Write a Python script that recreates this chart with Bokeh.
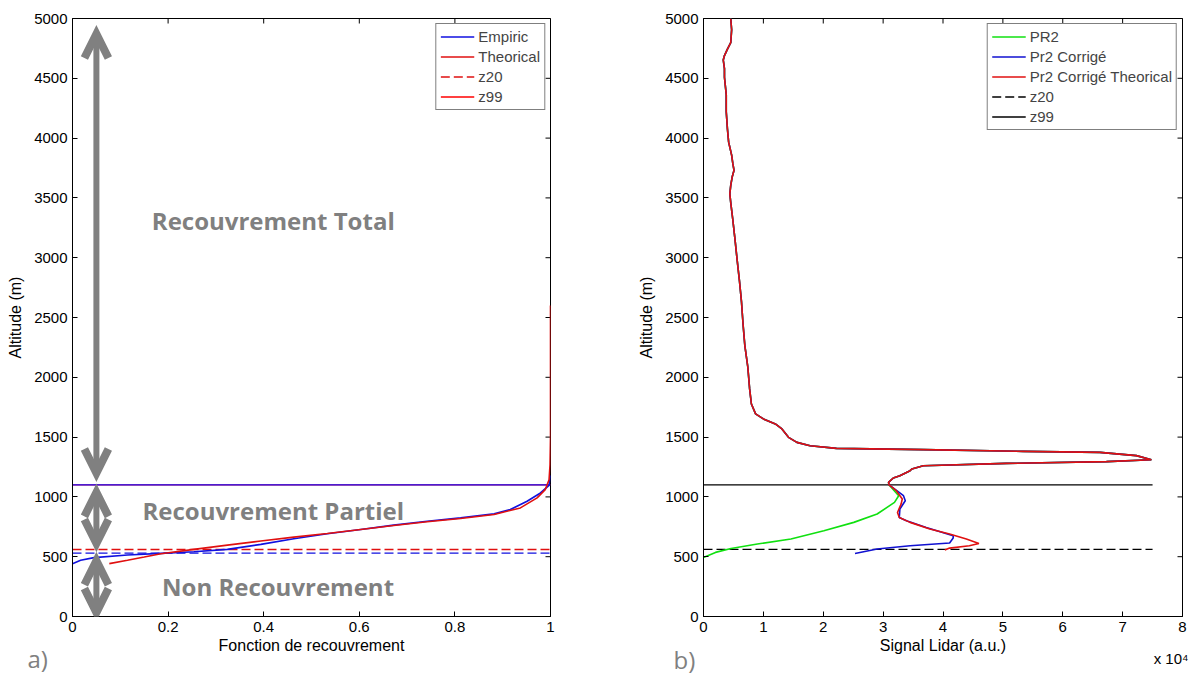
import math
from bokeh.plotting import figure
from bokeh.models import (Range1d, FixedTicker, Legend, LegendItem, Title,
                          Arrow, OpenHead)
from bokeh.layouts import row
from bokeh.embed import file_html
from bokeh.resources import INLINE
from bokeh.core.properties import value

# ---------------- data: panel a) overlap function ----------------
empiric_x = [0.0, 0.017, 0.045, 0.115, 0.185, 0.254, 0.324, 0.394, 0.463, 0.533,
             0.603, 0.672, 0.742, 0.812, 0.882, 0.916, 0.951, 0.979, 0.997, 1.0]
empiric_alt = [442, 470, 492, 514, 528, 542, 561, 603, 650, 692,
               728, 764, 797, 825, 858, 894, 964, 1033, 1097, 1180]
theorical_x = [0.077, 0.115, 0.15, 0.185, 0.254, 0.324, 0.394, 0.463, 0.533, 0.603,
               0.672, 0.742, 0.812, 0.882, 0.937, 0.972, 0.989, 0.997, 0.999, 1.0, 1.0]
theorical_alt = [442, 470, 497, 525, 561, 597, 631, 664, 694, 728,
                 761, 792, 820, 853, 908, 992, 1061, 1144, 1269, 1500, 2600]
z20_theorical = 560
z20_empiric = 530
z99 = 1100
xspan_a = [0, 1]
xticks_a = [0, 0.2, 0.4, 0.6, 0.8, 1]
xlabels_a = ["0", "0.2", "0.4", "0.6", "0.8", "1"]
yticks = [0, 500, 1000, 1500, 2000, 2500, 3000, 3500, 4000, 4500, 5000]
y_max = 5000

region_texts = ["Recouvrement Total", "Recouvrement Partiel", "Non Recouvrement"]
region_text_x = [0.42, 0.42, 0.43]
region_text_alt = [3315, 884, 248]
arrow_x = 0.05
arrow_top = [4870, 1038, 466]
arrow_bottom = [1200, 611, 33]

# ---------------- data: panel b) lidar signal (x 1e4) ----------------
upper_alt = [5000, 4906, 4798, 4744, 4690, 4653, 4581, 4509, 4364, 4220, 4075, 3966,
             3858, 3786, 3731, 3677, 3605, 3533, 3460, 3315, 3135, 2990, 2809, 2628,
             2448, 2267, 2086, 1905, 1777, 1694, 1652, 1610, 1568, 1498, 1456, 1428,
             1406, 1395, 1381, 1372, 1345, 1311, 1295, 1280, 1261, 1233, 1219, 1177,
             1158, 1121, 1100]
upper_sig = [0.455, 0.47, 0.455, 0.40, 0.35, 0.33, 0.35, 0.35, 0.38, 0.38, 0.40, 0.42,
             0.47, 0.49, 0.51, 0.48, 0.455, 0.44, 0.455, 0.49, 0.53, 0.56, 0.60, 0.635,
             0.66, 0.69, 0.74, 0.77, 0.80, 0.87, 1.0, 1.2, 1.31, 1.42, 1.56, 1.78,
             2.22, 3.67, 5.34, 6.62, 7.23, 7.48, 6.73, 5.06, 3.67, 3.48, 3.45, 3.28,
             3.17, 3.09, 3.10]
green_alt = [1010, 954, 857, 787, 717, 648, 606, 569, 536, 494]
green_sig = [3.26, 3.19, 2.90, 2.51, 2.01, 1.46, 0.90, 0.46, 0.20, 0.0]
blue_alt = [1010, 968, 899, 828, 801, 745, 675, 656, 614, 592, 564, 527]
blue_sig = [3.34, 3.37, 3.28, 3.27, 3.39, 3.72, 4.17, 4.17, 4.11, 3.45, 2.90, 2.53]
red_alt = [1052, 982, 940, 870, 828, 787, 731, 690, 648, 611, 592, 572, 556]
red_sig = [3.22, 3.32, 3.30, 3.24, 3.27, 3.45, 3.78, 4.11, 4.39, 4.60, 4.44, 4.11, 4.03]
z20_b = 562
z99_b = 1100
xspan_b = [0, 7.5]
xticks_b = [0, 1, 2, 3, 4, 5, 6, 7, 8]
x_multiplier = "x 10\u2074"

FONT = "Liberation Sans"
GRAY = "#808080"
W, H = 596, 677


def make_fig(xr, xticks, xlabels, min_left, min_right, xlabel):
    p = figure(width=W, height=H, output_backend="svg", toolbar_location=None,
               x_range=Range1d(*xr), y_range=Range1d(0, y_max),
               min_border_left=min_left, min_border_right=min_right,
               min_border_top=18, min_border_bottom=61,
               background_fill_color="white", border_fill_color="white")
    p.outline_line_color = "black"
    p.outline_line_width = 1
    p.xgrid.visible = False
    p.ygrid.visible = False
    p.xaxis.ticker = FixedTicker(ticks=xticks)
    p.yaxis.ticker = FixedTicker(ticks=yticks)
    if xlabels is not None:
        p.xaxis.major_label_overrides = dict(zip(xticks, xlabels))
    for ax in (p.xaxis[0], p.yaxis[0]):
        ax.major_tick_in = 5
        ax.major_tick_out = 0
        ax.minor_tick_line_color = None
        ax.axis_line_color = "black"
        ax.major_tick_line_color = "black"
        ax.major_label_text_font = FONT
        ax.major_label_text_font_size = "15px"
        ax.major_label_text_color = "black"
        ax.major_label_standoff = 5
        ax.axis_label_text_font = FONT
        ax.axis_label_text_font_size = "16px"
        ax.axis_label_text_font_style = "normal"
        ax.axis_label_text_color = "black"
    p.xaxis.axis_label = xlabel
    p.xaxis.axis_label_standoff = 2
    p.yaxis.axis_label = "Altitude (m)"
    p.yaxis.axis_label_standoff = 7
    # inward tick marks on the top and right edges of the box (half clipped by frame)
    p.scatter(x=xticks, y=[y_max] * len(xticks), marker="dash", size=10,
              angle=math.pi / 2, line_color="black", line_width=1)
    p.scatter(x=[xr[1]] * len(yticks), y=yticks, marker="dash", size=10,
              line_color="black", line_width=1)
    return p


def style_legend(p, items):
    leg = Legend(items=items, location="top_right", margin=5, padding=4,
                 spacing=3, glyph_width=34, glyph_height=17, label_height=17,
                 label_standoff=4, label_text_font=FONT, label_text_font_size="15px",
                 border_line_color="black", border_line_width=1,
                 background_fill_color="white", background_fill_alpha=1.0)
    p.add_layout(leg)


def caption(p, text, size, color, font, align, offset, standoff):
    t = Title(text=text, align=align, offset=offset, standoff=standoff,
              vertical_align="bottom", text_font=font, text_font_size=size,
              text_font_style="normal", text_color=color)
    p.add_layout(t, "below")


# ---------------- panel a ----------------
pa = make_fig((0, 1), xticks_a, xlabels_a, 72, 46, "Fonction de recouvrement")

r_z99 = pa.line(xspan_a, [z99, z99], line_color="#ff0000", line_width=1.3)
pa.line(xspan_a, [z99, z99], line_color="#1010ff", line_width=1.3)
r_z20 = pa.line(xspan_a, [z20_theorical, z20_theorical], line_color="#e01010",
                line_width=1.3, line_dash="9 4")
pa.line(xspan_a, [z20_empiric, z20_empiric], line_color="#1010e0",
        line_width=1.3, line_dash="9 4")
r_emp = pa.line(empiric_x, empiric_alt, line_color="#1010e0", line_width=1.6)
r_the = pa.line(theorical_x, theorical_alt, line_color="#e01010", line_width=1.6)

for top, bot in zip(arrow_top, arrow_bottom):
    pa.add_layout(Arrow(
        start=OpenHead(size=24, line_color=GRAY, line_width=8, line_join="miter"),
        end=OpenHead(size=24, line_color=GRAY, line_width=8, line_join="miter"),
        x_start=arrow_x, y_start=top, x_end=arrow_x, y_end=bot,
        line_color=GRAY, line_width=6))

pa.text(x=region_text_x, y=region_text_alt, text=region_texts,
        text_font=value("Open Sans"), text_font_style="bold", text_font_size="24px",
        text_color=GRAY, text_align="center", text_baseline="middle")

style_legend(pa, [LegendItem(label="Empiric", renderers=[r_emp]),
                  LegendItem(label="Theorical", renderers=[r_the]),
                  LegendItem(label="z20", renderers=[r_z20]),
                  LegendItem(label="z99", renderers=[r_z99])])

caption(pa, "a)", "24px", GRAY, "Open Sans", "left", -45, -34)

# ---------------- panel b ----------------
pb = make_fig((0, 8), xticks_b, None, 107, 10, "Signal Lidar (a.u.)")

r_z99b = pb.line(xspan_b, [z99_b, z99_b], line_color="black", line_width=1.3)
r_z20b = pb.line(xspan_b, [z20_b, z20_b], line_color="black", line_width=1.3,
                 line_dash="9 4")
r_g = pb.line(upper_sig + green_sig, upper_alt + green_alt, line_color="#10e010",
              line_width=1.6)
r_b = pb.line(upper_sig + blue_sig, upper_alt + blue_alt, line_color="#1010d0",
              line_width=1.6)
r_r = pb.line(upper_sig + red_sig, upper_alt + red_alt, line_color="#e01010",
              line_width=1.6)

style_legend(pb, [LegendItem(label="PR2", renderers=[r_g]),
                  LegendItem(label="Pr2 Corrigé", renderers=[r_b]),
                  LegendItem(label="Pr2 Corrigé Theorical", renderers=[r_r]),
                  LegendItem(label="z20", renderers=[r_z20b]),
                  LegendItem(label="z99", renderers=[r_z99b])])

caption(pb, x_multiplier, "15px", "black", FONT, "right", -6, -21)
caption(pb, "b)", "24px", GRAY, "Open Sans", "left", -30, -32)

layout = row(pa, pb)
open("out.html", "w").write(file_html(layout, INLINE))
